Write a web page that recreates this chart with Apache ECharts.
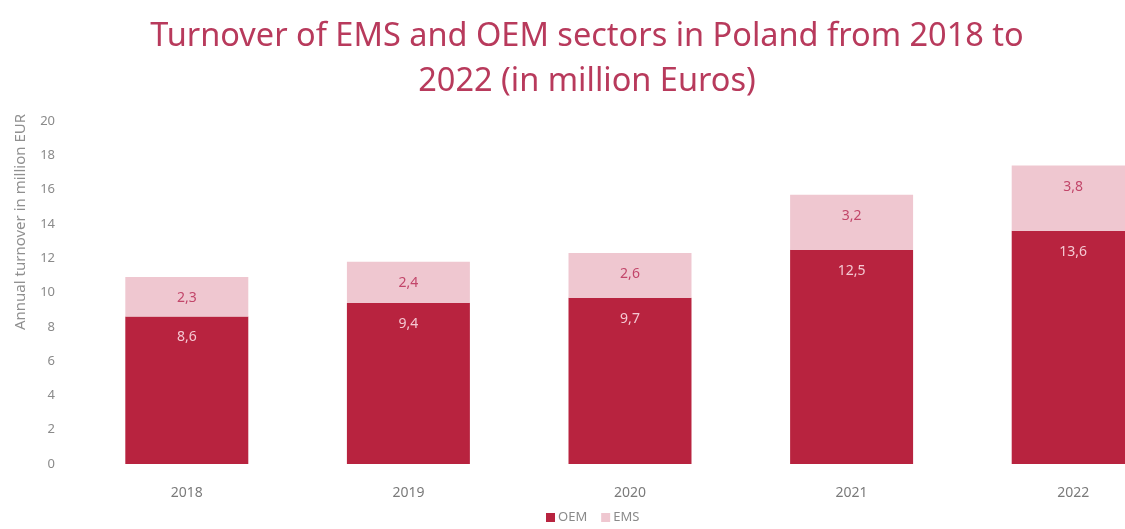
<!DOCTYPE html>
<html>
<head>
<meta charset="utf-8">
<script src="https://cdn.jsdelivr.net/npm/echarts@6/dist/echarts.min.js"></script>
<style>
  html, body { margin: 0; padding: 0; background: #ffffff; overflow: hidden; }
  /* the plot runs past the right edge of the page; the last bar is cut off */
  #chart { width: 1184px; height: 529px; }
</style>
</head>
<body>
<div id="chart"></div>
<script>
// Turnover per year, million EUR
const years = ['2018', '2019', '2020', '2021', '2022'];
const oemValues = [8.6, 9.4, 9.7, 12.5, 13.6];
const emsValues = [2.3, 2.4, 2.6, 3.2, 3.8];
const yTicks = [0, 2, 4, 6, 8, 10, 12, 14, 16, 18, 20];

const fmt = v => String(v).replace('.', ',');
const font = '"Noto Sans", Roboto, sans-serif';

const chart = echarts.init(document.getElementById('chart'));
chart.setOption({
  backgroundColor: '#ffffff',
  animation: false,
  title: {
    text: 'Turnover of EMS and OEM sectors in Poland from 2018 to\n2022 (in million Euros)',
    left: 582,
    textAlign: 'center',
    top: 9,
    textStyle: {
      color: '#b83a5c',
      fontFamily: font,
      fontSize: 32.5,
      fontWeight: 'normal',
      lineHeight: 45
    }
  },
  legend: {
    bottom: 0,
    left: 541,
    itemWidth: 9,
    itemHeight: 9,
    itemGap: 14,
    icon: 'rect',
    textStyle: { color: '#8a8a8a', fontFamily: font, fontSize: 13, padding: [0, 0, 0, -2] },
    data: ['OEM', 'EMS']
  },
  graphic: [{
    type: 'text',
    x: 21,
    y: 222,
    rotation: Math.PI / 2,
    style: {
      text: 'Annual turnover in million EUR',
      fill: '#8f8f8f',
      font: '15px ' + font,
      textAlign: 'center',
      textVerticalAlign: 'middle'
    }
  }],
  grid: { left: 76, right: 0, top: 121, bottom: 65, containLabel: false },
  xAxis: {
    type: 'category',
    data: years,
    axisLine: { show: false },
    axisTick: { show: false },
    axisLabel: { color: '#7a7a7a', fontFamily: font, fontSize: 14, margin: 22 }
  },
  yAxis: {
    type: 'value',
    min: yTicks[0],
    max: yTicks[yTicks.length - 1],
    interval: yTicks[1] - yTicks[0],
    splitLine: { show: false },
    axisLine: { show: false },
    axisTick: { show: false },
    axisLabel: { color: '#8a8a8a', fontFamily: font, fontSize: 13, margin: 21 }
  },
  series: [
    {
      name: 'OEM',
      type: 'bar',
      stack: 'total',
      barWidth: '55.5%',
      data: oemValues,
      itemStyle: { color: '#b8233f' },
      label: {
        show: true,
        position: 'insideTop',
        distance: 14,
        color: '#f4c8d2',
        fontFamily: font,
        fontSize: 14,
        formatter: p => fmt(p.value)
      }
    },
    {
      name: 'EMS',
      type: 'bar',
      stack: 'total',
      data: emsValues,
      itemStyle: { color: '#efc7d0' },
      label: {
        show: true,
        position: 'insideTop',
        distance: 14,
        color: '#c2466a',
        fontFamily: font,
        fontSize: 14,
        formatter: p => fmt(p.value)
      }
    }
  ]
});
</script>
</body>
</html>
